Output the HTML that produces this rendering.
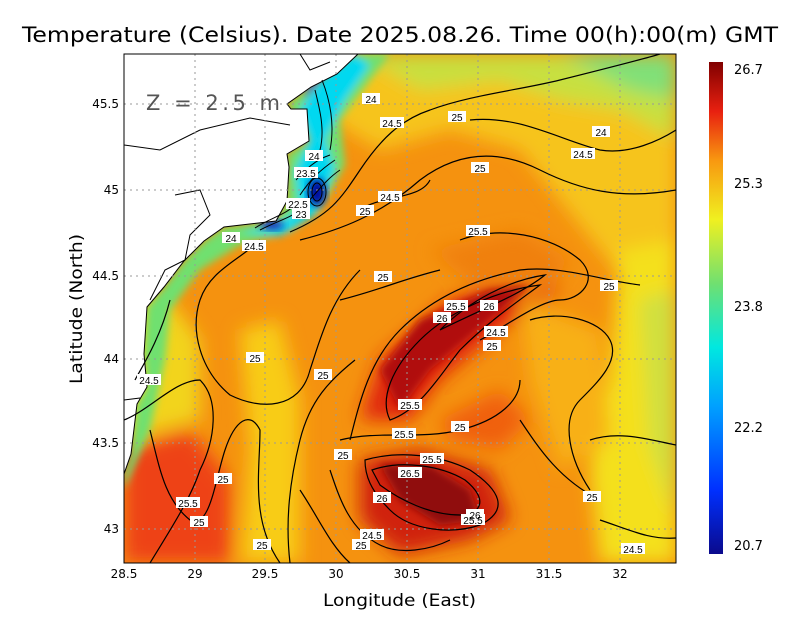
<!DOCTYPE html>
<html><head><meta charset="utf-8"><style>
body{margin:0;background:#fff}
svg{display:block;font-family:"DejaVu Sans","Liberation Sans",sans-serif}
.lb{font-size:10px;fill:#000;font-family:"Liberation Sans",sans-serif}
</style></head><body>
<svg width="800" height="618" viewBox="0 0 800 618" xmlns="http://www.w3.org/2000/svg">
<defs>
<clipPath id="pc"><rect x="124" y="54" width="552" height="509"/></clipPath>
<filter id="bl" x="-20%" y="-20%" width="140%" height="140%"><feGaussianBlur stdDeviation="9"/></filter>
<filter id="bs" x="-20%" y="-20%" width="140%" height="140%"><feGaussianBlur stdDeviation="4"/></filter>
<linearGradient id="cb" x1="0" y1="1" x2="0" y2="0">
<stop offset="0" stop-color="#0a0a8c"/><stop offset="0.13" stop-color="#0030ff"/>
<stop offset="0.3" stop-color="#00a0ff"/><stop offset="0.42" stop-color="#00e8e0"/>
<stop offset="0.55" stop-color="#70e070"/><stop offset="0.68" stop-color="#f0f020"/>
<stop offset="0.8" stop-color="#f89810"/><stop offset="0.9" stop-color="#e82010"/>
<stop offset="1" stop-color="#800000"/></linearGradient>
</defs>
<text x="22" y="42" font-size="21" fill="#000" textLength="756" lengthAdjust="spacingAndGlyphs">Temperature (Celsius). Date 2025.08.26. Time 00(h):00(m)  GMT</text>
<g clip-path="url(#pc)">
<rect x="124" y="54" width="552" height="509" fill="#f5920f"/>
<g filter="url(#bl)">
<path d="M330 54 L676 54 L676 260 L640 300 L600 250 L560 200 L520 150 L450 130 L380 150 L330 120Z" fill="#f6c41c"/>
<path d="M360 54 L676 54 L676 140 L620 110 L560 100 L500 80 L420 90Z" fill="#c8e040"/>
<path d="M560 54 L676 54 L676 100 L630 90Z" fill="#80e078"/>
<path d="M620 250 L676 240 L676 563 L600 563 L590 470 L610 380Z" fill="#f4e01c"/>
<path d="M640 300 L676 290 L676 520 L650 450Z" fill="#d0e040"/>
<path d="M240 330 L280 320 L300 400 L300 563 L240 563 L250 450Z" fill="#f8cc18"/>
<path d="M124 300 L170 300 L200 340 L200 420 L124 440Z" fill="#f2d41e"/>
<path d="M124 450 L190 430 L230 480 L230 563 L124 563Z" fill="#ee4212"/>
<path d="M360 420 L380 360 L450 300 L540 270 L560 290 L500 330 L440 380 L410 420Z" fill="#e02810"/>
<path d="M440 420 L500 390 L530 420 L500 450 L450 440Z" fill="#f06010"/>
<path d="M360 460 L420 450 L490 470 L510 520 L470 540 L400 555 L360 520Z" fill="#d02010"/>
<path d="M430 250 L520 230 L570 260 L540 300 L480 290Z" fill="#f08010"/>
<path d="M520 300 L600 330 L610 440 L560 470 L530 380Z" fill="#f8b018"/>
</g>
<g filter="url(#bs)">
<path d="M380 370 L420 320 L490 290 L530 285 L490 320 L430 370 L400 410Z" fill="#b01008"/>
<path d="M380 465 L430 465 L470 490 L480 520 L440 525 L400 500Z" fill="#901008"/>
<path d="M354 54 L337 74 L311 87 L287 104 L309 141 L287 154 L287 201 L276 221 L224 227 L204 241 L184 261 L164 287 L147 307 L144 354 L147 387 L137 404 L131 454 L124 474 L124 490 L150 430 L165 360 L170 310 L200 270 L240 245 L290 232 L320 210 L345 165 L340 120 L370 80 L390 54Z" fill="#70e070"/>
<path d="M354 54 L320 80 L300 110 L310 140 L295 170 L300 210 L270 228 L240 232 L280 236 L315 215 L335 170 L325 140 L345 100 L370 65Z" fill="#00d8f0"/>
</g>
<ellipse cx="317" cy="192" rx="9" ry="14" fill="#0010a0" filter="url(#bs)"/>
<ellipse cx="272" cy="225" rx="12" ry="5" fill="#1030c0" filter="url(#bs)"/>
<path d="M330 58 L310 80 L305 100 L320 75 L345 58Z" fill="#1040ff" filter="url(#bs)"/>
<path d="M124 54 L358 54 L337 74 L311 87 L287 104 L291 109 L307 109 L309 141 L287 154 L289 167 L287 201 L276 221 L224 227 L204 241 L184 261 L164 287 L147 307 L144 354 L147 387 L137 404 L131 454 L124 474Z" fill="#fff" stroke="#000" stroke-width="1"/>
<path d="M124 145 L160 150 L200 130 L250 118 L290 125" fill="none" stroke="#000"/>
<path d="M124 400 L140 398" fill="none" stroke="#000"/>
<path d="M300 54 L310 70 L330 62" fill="none" stroke="#000"/>
<path d="M175 195 L200 190 L210 215 L190 235 L185 260 L165 270 L150 300" fill="none" stroke="#000"/>
<g stroke="#999" stroke-dasharray="2,4" stroke-width="1">
<path d="M195 54V563M265 54V563M336 54V563M407 54V563M478 54V563M549 54V563M620 54V563"/>
<path d="M124 104H676M124 190H676M124 276H676M124 359H676M124 443H676M124 529H676"/>
</g>
<g fill="none" stroke="#000" stroke-width="1.2">
<path d="M290 232 C330 215 340 200 360 170 C380 140 400 120 430 110 C470 95 520 90 560 80 C600 70 640 60 660 54"/>
<path d="M300 240 C340 230 380 215 420 180 C460 150 500 150 540 170 C580 190 620 200 676 190"/>
<path d="M360 210 C380 195 420 200 430 180"/>
<path d="M470 120 C520 115 560 140 600 150 C630 155 660 140 676 130"/>
<path d="M170 300 C160 340 140 370 135 380"/>
<path d="M260 240 C240 260 210 270 200 300 C190 330 200 370 230 395 C260 410 300 410 310 370 C320 340 330 300 360 270"/>
<path d="M124 420 C150 410 175 380 200 380 C220 400 215 440 200 470 C190 500 170 530 150 563"/>
<path d="M150 430 C160 470 165 500 190 520 C210 530 215 480 225 450 C235 420 250 410 260 430 C260 470 250 520 280 563"/>
<path d="M290 563 C285 520 290 480 300 440 C310 400 330 380 355 360"/>
<path d="M340 300 C380 290 400 280 440 270"/>
<path d="M350 440 C360 400 370 360 400 330 C430 300 470 280 520 270 C560 265 600 280 640 285 C660 285 676 280"/>
<path d="M390 420 C380 400 390 370 420 340 C450 310 500 290 540 285 C520 300 490 320 460 350 C440 375 420 410 390 420Z"/>
<path d="M440 330 C470 300 510 280 545 275 C520 295 480 310 440 330Z"/>
<path d="M460 240 C500 225 550 235 580 260 C600 280 580 300 560 300 C540 300 500 330 480 340"/>
<path d="M530 320 C560 310 600 320 610 340 C620 360 600 380 580 400 C560 420 570 460 590 490"/>
<path d="M340 440 C380 430 420 440 460 430 C500 420 520 400 520 380"/>
<path d="M365 460 C400 450 440 455 470 470 C500 490 510 510 480 525 C450 535 410 530 390 510 C370 490 365 475 365 460Z"/>
<path d="M372 470 C400 460 440 465 465 480 C490 500 480 515 460 515 C430 515 400 500 380 485Z"/>
<path d="M330 470 C340 500 350 530 380 545 C400 555 430 550 450 540"/>
<path d="M300 490 C320 520 330 545 350 563"/>
<path d="M590 440 C620 430 650 440 676 445"/>
<path d="M600 520 C630 530 650 540 676 538"/>
<path d="M520 420 C540 450 560 480 600 500"/>
</g>
<g fill="none" stroke="#000" stroke-width="1">
<path d="M296 180 C305 170 315 160 330 155 M300 195 C310 180 320 170 335 160 M305 205 C315 195 325 180 340 170 M260 230 C275 222 290 218 300 210 M255 228 C270 218 285 215 295 205"/>
<ellipse cx="317" cy="192" rx="5" ry="9"/><ellipse cx="317" cy="192" rx="9" ry="14"/>
<path d="M315 90 C320 110 325 130 320 150 M322 80 C330 100 335 125 330 150"/>
</g>
<g class="lb" text-anchor="middle">
<g fill="#fff"><rect x="362" y="93" width="18" height="11"/><rect x="380" y="117" width="24" height="11"/><rect x="448" y="111" width="18" height="11"/><rect x="592" y="126" width="18" height="11"/><rect x="571" y="148" width="24" height="11"/><rect x="305" y="150" width="18" height="11"/><rect x="294" y="167" width="24" height="11"/><rect x="471" y="162" width="18" height="11"/><rect x="378" y="191" width="24" height="11"/><rect x="356" y="205" width="18" height="11"/><rect x="286" y="198" width="24" height="11"/><rect x="292" y="208" width="18" height="11"/><rect x="222" y="232" width="18" height="11"/><rect x="242" y="240" width="24" height="11"/><rect x="466" y="225" width="24" height="11"/><rect x="374" y="271" width="18" height="11"/><rect x="600" y="280" width="18" height="11"/><rect x="444" y="300" width="24" height="11"/><rect x="480" y="300" width="18" height="11"/><rect x="433" y="312" width="18" height="11"/><rect x="484" y="326" width="24" height="11"/><rect x="483" y="340" width="18" height="11"/><rect x="246" y="352" width="18" height="11"/><rect x="314" y="369" width="18" height="11"/><rect x="137" y="374" width="24" height="11"/><rect x="398" y="399" width="24" height="11"/><rect x="451" y="421" width="18" height="11"/><rect x="392" y="428" width="24" height="11"/><rect x="334" y="449" width="18" height="11"/><rect x="420" y="453" width="24" height="11"/><rect x="398" y="467" width="24" height="11"/><rect x="214" y="473" width="18" height="11"/><rect x="373" y="492" width="18" height="11"/><rect x="583" y="491" width="18" height="11"/><rect x="176" y="497" width="24" height="11"/><rect x="466" y="509" width="18" height="11"/><rect x="461" y="514" width="24" height="11"/><rect x="190" y="516" width="18" height="11"/><rect x="360" y="529" width="24" height="11"/><rect x="352" y="539" width="18" height="11"/><rect x="253" y="539" width="18" height="11"/><rect x="621" y="543" width="24" height="11"/></g>
<text x="371" y="103">24</text><text x="392" y="127">24.5</text><text x="457" y="121">25</text><text x="601" y="136">24</text><text x="583" y="158">24.5</text><text x="314" y="160">24</text><text x="306" y="177">23.5</text><text x="480" y="172">25</text><text x="390" y="201">24.5</text><text x="365" y="215">25</text><text x="298" y="208">22.5</text><text x="301" y="218">23</text><text x="231" y="242">24</text><text x="254" y="250">24.5</text><text x="478" y="235">25.5</text><text x="383" y="281">25</text><text x="609" y="290">25</text><text x="456" y="310">25.5</text><text x="489" y="310">26</text><text x="442" y="322">26</text><text x="496" y="336">24.5</text><text x="492" y="350">25</text><text x="255" y="362">25</text><text x="323" y="379">25</text><text x="149" y="384">24.5</text><text x="410" y="409">25.5</text><text x="460" y="431">25</text><text x="404" y="438">25.5</text><text x="343" y="459">25</text><text x="432" y="463">25.5</text><text x="410" y="477">26.5</text><text x="223" y="483">25</text><text x="382" y="502">26</text><text x="592" y="501">25</text><text x="188" y="507">25.5</text><text x="475" y="519">26</text><text x="473" y="524">25.5</text><text x="199" y="526">25</text><text x="372" y="539">24.5</text><text x="361" y="549">25</text><text x="262" y="549">25</text><text x="633" y="553">24.5</text>
</g>
<text x="146" y="110" font-size="21" fill="#555" textLength="134" lengthAdjust="spacing">Z = 2.5 m</text>
</g>
<rect x="124" y="54" width="552" height="509" fill="none" stroke="#000" stroke-width="1"/>
<g font-size="12" fill="#000" text-anchor="middle">
<text x="124" y="578">28.5</text><text x="195" y="578">29</text><text x="265" y="578">29.5</text><text x="336" y="578">30</text><text x="407" y="578">30.5</text><text x="478" y="578">31</text><text x="549" y="578">31.5</text><text x="620" y="578">32</text>
</g>
<g font-size="12" fill="#000" text-anchor="end">
<text x="119" y="108">45.5</text><text x="119" y="194">45</text><text x="119" y="280">44.5</text><text x="119" y="363">44</text><text x="119" y="447">43.5</text><text x="119" y="533">43</text>
</g>
<text x="323" y="606" font-size="17" textLength="153" lengthAdjust="spacingAndGlyphs">Longitude (East)</text>
<text transform="translate(82,384) rotate(-90)" font-size="17" textLength="150" lengthAdjust="spacingAndGlyphs">Latitude (North)</text>
<rect x="709" y="62" width="14" height="492" fill="url(#cb)"/>
<g font-size="13" fill="#000"><text x="734" y="74">26.7</text><text x="734" y="188">25.3</text><text x="734" y="311">23.8</text><text x="734" y="432">22.2</text><text x="734" y="550">20.7</text></g>
</svg>
</body></html>
